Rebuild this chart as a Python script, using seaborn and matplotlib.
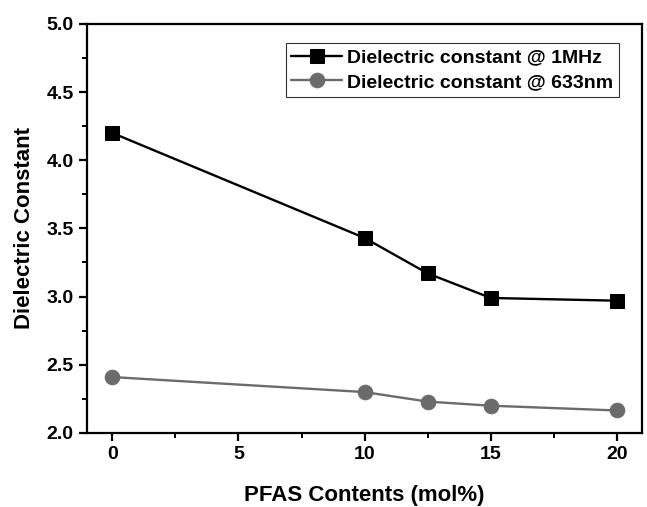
import matplotlib
matplotlib.use("Agg")
import matplotlib.pyplot as plt
import seaborn as sns
import pandas as pd
from matplotlib.ticker import MultipleLocator

# datos
pfas = [0, 10, 12.5, 15, 20]
k_1mhz = [4.20, 3.43, 3.17, 2.99, 2.97]
k_633nm = [2.41, 2.30, 2.23, 2.20, 2.165]

sns.set_theme(style="ticks")
plt.rcParams['font.family'] = ['Liberation Sans', 'DejaVu Sans']
plt.rcParams['font.weight'] = 'bold'
plt.rcParams['text.color'] = 'black'
plt.rcParams['axes.labelcolor'] = 'black'

fig = plt.figure(figsize=(6.47, 5.07), dpi=100)
ax = fig.add_axes([0.1345, 0.146, 0.858, 0.807])

df = pd.DataFrame({"x": pfas, "a": k_1mhz, "b": k_633nm})
sns.lineplot(data=df, x="x", y="a", ax=ax, color="black", marker="s",
             markersize=9.5, linewidth=1.7, markeredgecolor="black",
             label="Dielectric constant @ 1MHz")
sns.lineplot(data=df, x="x", y="b", ax=ax, color="#6b6b6b", marker="o",
             markersize=10.5, linewidth=1.7, markeredgecolor="#6b6b6b",
             label="Dielectric constant @ 633nm")

ax.set_xlim(-1, 21)
ax.set_ylim(2.0, 5.0)
ax.xaxis.set_major_locator(MultipleLocator(5))
ax.xaxis.set_minor_locator(MultipleLocator(2.5))
ax.yaxis.set_major_locator(MultipleLocator(0.5))
ax.yaxis.set_minor_locator(MultipleLocator(0.25))
ax.yaxis.set_major_formatter(plt.FormatStrFormatter('%.1f'))

for s in ax.spines.values():
    s.set_linewidth(1.6)
    s.set_color("black")
ax.tick_params(which="major", direction="out", length=6, width=1.6,
               labelsize=14, colors="black")
ax.tick_params(which="minor", direction="out", length=3.5, width=1.4,
               colors="black")
for lab in ax.get_xticklabels() + ax.get_yticklabels():
    lab.set_fontweight("bold")

ax.set_xlabel("PFAS Contents (mol%)", fontsize=16, fontweight="bold", labelpad=16)
ax.set_ylabel("Dielectric Constant", fontsize=16, fontweight="bold", labelpad=8)

leg = ax.legend(loc="upper right", bbox_to_anchor=(0.958, 0.953), fontsize=14,
                frameon=True, fancybox=False, edgecolor="black",
                handlelength=2.6, borderpad=0.3, labelspacing=0.35,
                handletextpad=0.25, borderaxespad=0)
leg.get_frame().set_linewidth(0.8)
for t in leg.get_texts():
    t.set_fontweight("bold")
    t.set_color("black")

fig.savefig("out.png", dpi=100)
